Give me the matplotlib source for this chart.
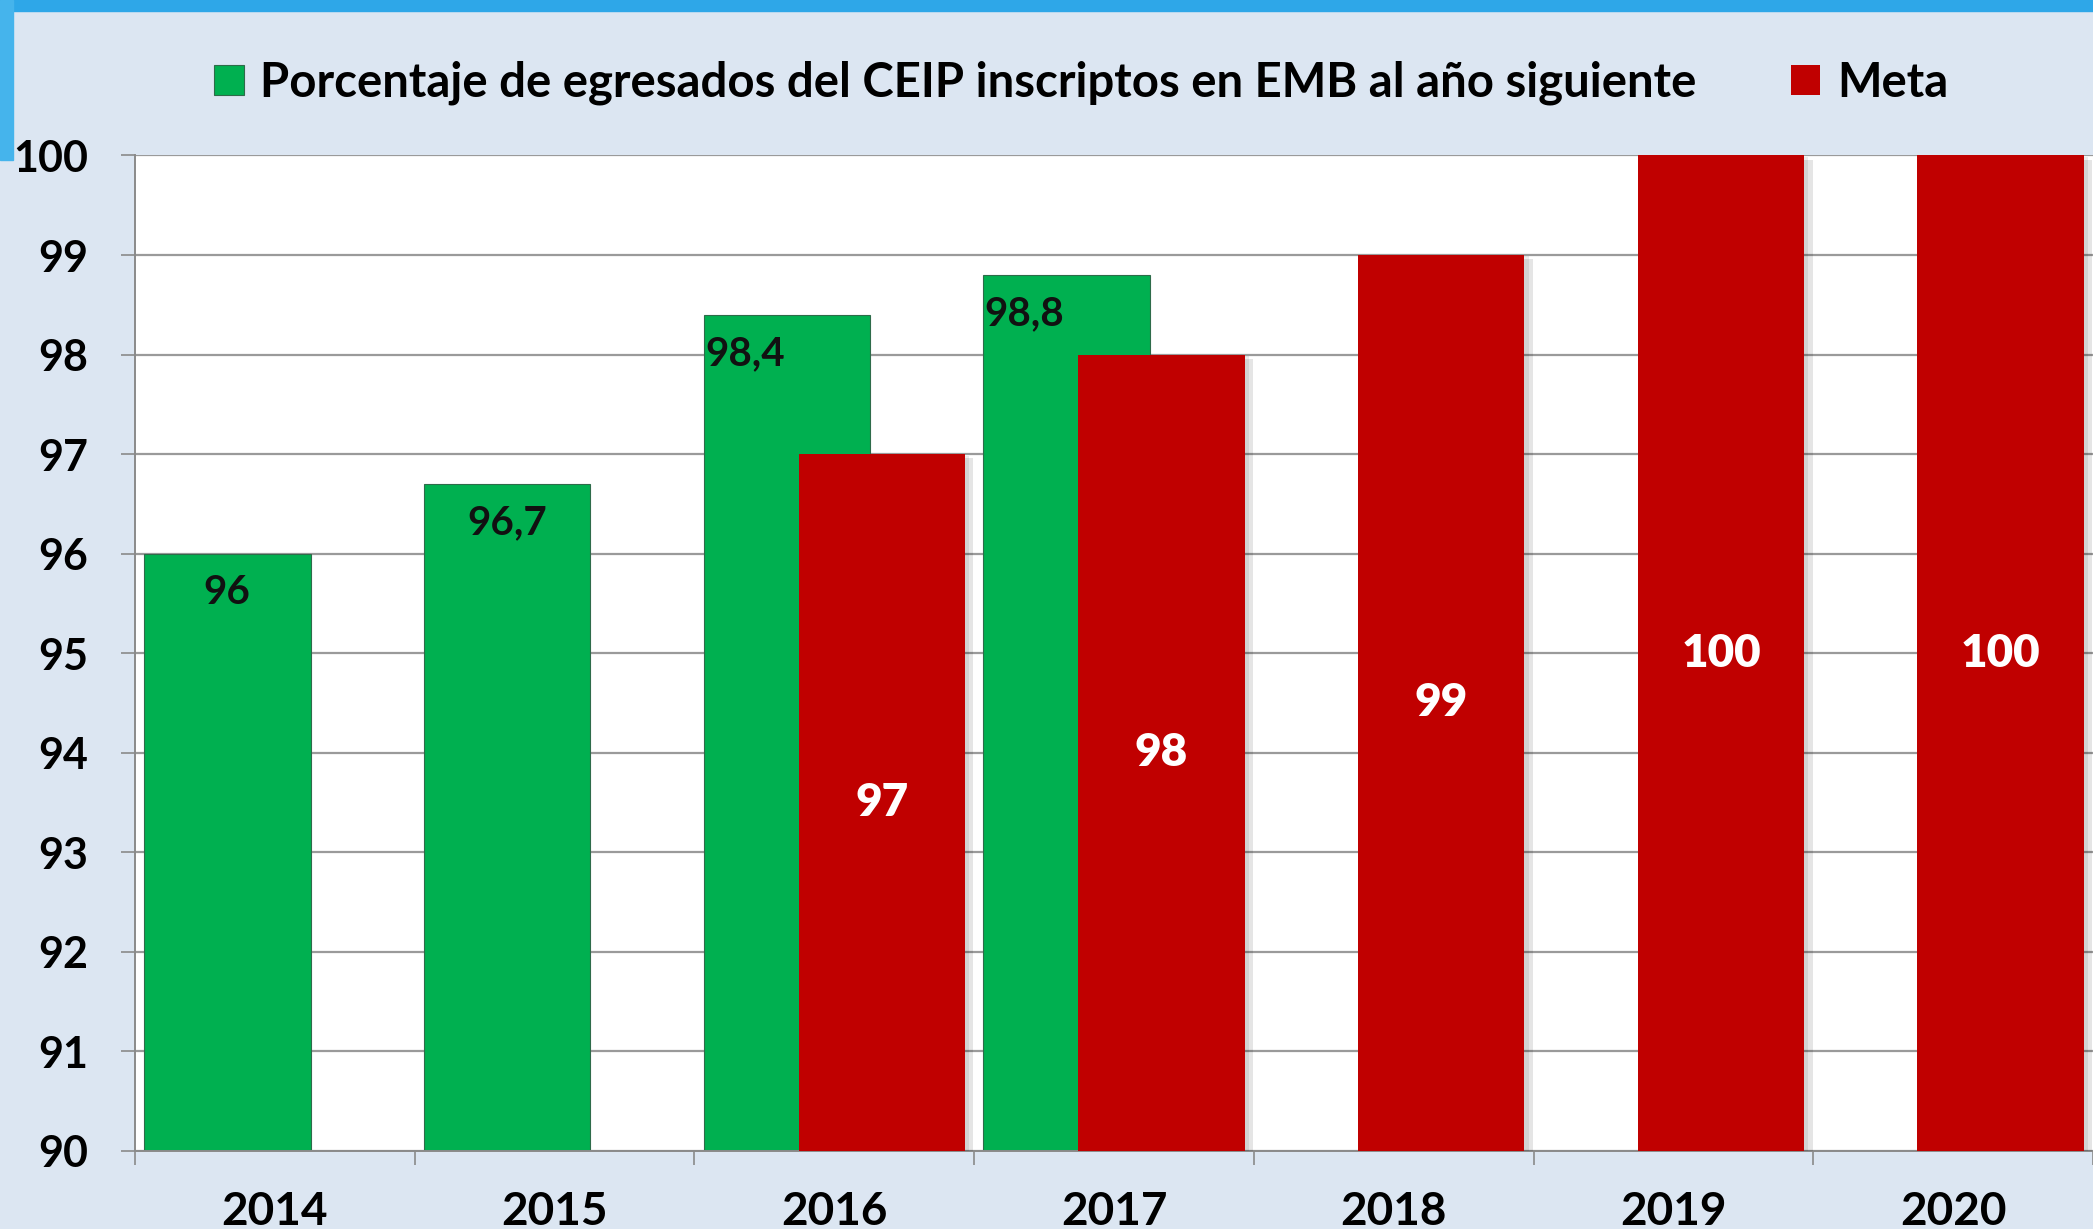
import numpy as np
import matplotlib.pyplot as plt
from matplotlib.patches import Rectangle
import matplotlib.patheffects as pe

plt.rcParams['font.family'] = ['Lato', 'DejaVu Sans']

# data
years = ['2014', '2015', '2016', '2017', '2018', '2019', '2020']
egresados = [96, 96.7, 98.4, 98.8, None, None, None]
meta = [None, None, 97, 98, 99, 100, 100]
serie_verde = 'Porcentaje de egresados del CEIP inscriptos en EMB al año siguiente'
serie_roja = 'Meta'

verde = '#00B050'
rojo = '#C00000'
fondo = '#DCE6F2'

fig = plt.figure(figsize=(20.93, 12.29), dpi=100)
fig.patch.set_facecolor(fondo)

# blue frame at top-left corner
fig.patches.append(Rectangle((0, 1 - 11 / 1229), 1, 11 / 1229, transform=fig.transFigure,
                             color='#2EA7E8', zorder=0))
fig.patches.append(Rectangle((0, 1 - 160 / 1229), 13 / 2093, 160 / 1229, transform=fig.transFigure,
                             color='#45B4EC', zorder=0))

ax = fig.add_axes([0.0645, 0.0635, 0.9355, 0.81])
ax.set_facecolor('white')

x = np.arange(len(years))
w = 0.595
off = 0.17

gx = [i for i, v in enumerate(egresados) if v is not None]
gv = [v for v in egresados if v is not None]
rx = [i for i, v in enumerate(meta) if v is not None]
rv = [v for v in meta if v is not None]

gbars = ax.bar(np.array(gx) - off, np.array(gv) - 90, bottom=90, width=w, color=verde,
               edgecolor='#2E6B4A', linewidth=0.8, zorder=2)
rbars = ax.bar(np.array(rx) + off, np.array(rv) - 90, bottom=90, width=w, color=rojo,
               linewidth=0, zorder=3)
for b in rbars:
    b.set_path_effects([pe.SimplePatchShadow(offset=(6, -3), shadow_rgbFace='#000000', alpha=0.10),
                        pe.SimplePatchShadow(offset=(3, -1), shadow_rgbFace='#000000', alpha=0.08),
                        pe.Normal()])

# labels
for xi, v in zip(gx, gv):
    txt = ('%g' % v).replace('.', ',')
    if meta[xi] is not None:
        ax.annotate(txt, (xi - off - w / 2, v), xytext=(1, -28), textcoords='offset points',
                    ha='left', va='center', fontsize=29, fontweight='bold', color='#111111', zorder=5)
    else:
        ax.annotate(txt, (xi - off, v), xytext=(0, -28), textcoords='offset points',
                    ha='center', va='center', fontsize=29, fontweight='bold', color='#111111', zorder=5)
for xi, v in zip(rx, rv):
    ax.text(xi + off, (90 + v) / 2, '%g' % v, ha='center', va='center', fontsize=33,
            fontweight='heavy', color='white', zorder=5)

ax.set_ylim(90, 100)
ax.set_xlim(-0.5, len(years) - 0.5)
ax.set_yticks(range(90, 101))
ax.grid(axis='y', color='#9A9A9A', linewidth=1.6, zorder=0)
ax.set_axisbelow(True)

ax.set_xticks(x)
ax.set_xticklabels(years)
ax.set_xticks(np.arange(-0.5, len(years), 1), minor=True)
ax.tick_params(axis='x', which='major', length=0, pad=29, labelsize=33)
ax.tick_params(axis='x', which='minor', length=10, width=1.2, color='#8A8A8A')
ax.tick_params(axis='y', length=10, width=1.2, color='#8A8A8A', pad=24, labelsize=31)
for lab in ax.get_xticklabels() + ax.get_yticklabels():
    lab.set_fontweight('bold')

for s in ['top', 'right']:
    ax.spines[s].set_visible(False)
for s in ['left', 'bottom']:
    ax.spines[s].set_color('#8A8A8A')
    ax.spines[s].set_linewidth(1.4)

handles = [Rectangle((0, 0), 1, 1, facecolor=verde, edgecolor='#2E6B4A', linewidth=0.8),
           Rectangle((0, 0), 1, 1, facecolor=rojo, linewidth=0)]
leg = fig.legend(handles=handles, labels=[serie_verde, serie_roja], loc='center',
                 bbox_to_anchor=(0.5166, 0.9325), ncol=2, frameon=False,
                 handlelength=0.62, handleheight=0.62, handletextpad=0.35, columnspacing=2.0,
                 prop={'weight': 'bold', 'size': 34})

fig.savefig('out.png', dpi=100, facecolor=fondo)
